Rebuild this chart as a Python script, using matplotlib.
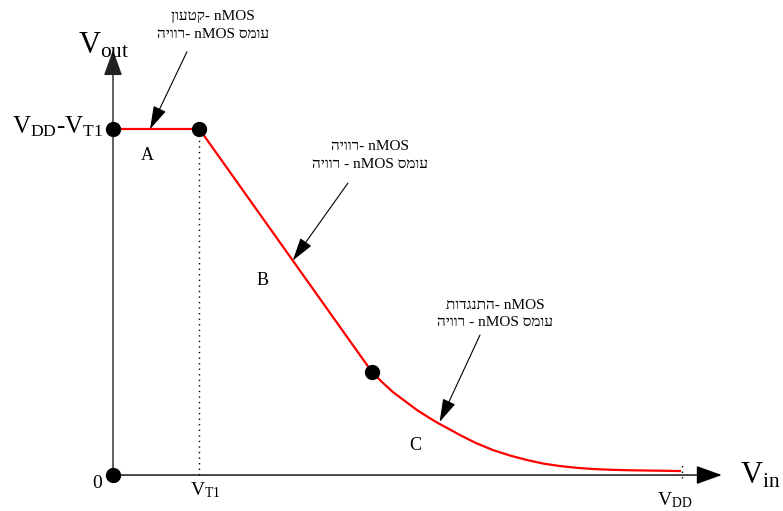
import matplotlib.pyplot as plt

plt.rcParams['font.family'] = ['Liberation Serif', 'DejaVu Serif', 'DejaVu Sans']
plt.rcParams['mathtext.fontset'] = 'custom'
plt.rcParams['mathtext.rm'] = 'Liberation Serif'
plt.rcParams['mathtext.it'] = 'Liberation Serif:italic'


def rtl(word):
    # matplotlib has no bidi support, so Hebrew words are drawn reversed
    return word[::-1]


# supply and threshold voltage (arbitrary units)
VDD = 5.0
VT1 = 0.76
V_HIGH = VDD - VT1

# region A: flat output
a_vin = [0.0, VT1]
a_vout = [V_HIGH, V_HIGH]

# region B: straight drop
b_vin = [VT1, 2.276]
b_vout = [V_HIGH, 1.263]

# region C: tail towards zero
c_vin = [2.276, 2.364, 2.460, 2.566, 2.671, 2.768, 2.856, 2.953, 3.049, 3.190, 3.339,
         3.489, 3.638, 3.779, 3.928, 4.077, 4.218, 4.367, 4.517, 4.745, 4.982]
c_vout = [1.263, 1.140, 1.017, 0.907, 0.797, 0.711, 0.637, 0.564, 0.490, 0.392, 0.306,
          0.239, 0.184, 0.141, 0.110, 0.088, 0.074, 0.065, 0.059, 0.054, 0.049]

# marked points
dot_vin = [0.0, 0.0, VT1, 2.276]
dot_vout = [0.0, V_HIGH, V_HIGH, 1.263]

fig = plt.figure(figsize=(7.83, 5.11), dpi=100)
ax = fig.add_axes([0, 0, 1, 1])
ax.set_xlim(-0.993, 5.888)
ax.set_ylim(-0.441, 5.824)
ax.axis('off')

# axes with arrow heads
axis_arrow = dict(arrowstyle='-|>,head_length=1.0,head_width=0.36', mutation_scale=16,
                  color='black', lw=1.0, shrinkA=0, shrinkB=0)
ax.annotate('', xy=(5.35, 0), xytext=(0, 0), arrowprops=axis_arrow)
ax.annotate('', xy=(0, 5.21), xytext=(0, 0), arrowprops=dict(axis_arrow, color='#222222'))

# dotted guides at VT1 and VDD
ax.plot([VT1, VT1], [0, V_HIGH], color='black', lw=1, ls=(0, (1, 3)))
ax.plot([VDD, VDD], [-0.04, 0.16], color='black', lw=1, ls=(0, (1, 3)))

# transfer curve
ax.plot(a_vin, a_vout, color='red', lw=1.6, solid_capstyle='butt')
ax.plot(b_vin, b_vout, color='red', lw=1.6, solid_joinstyle='round')
ax.plot(c_vin, c_vout, color='red', lw=1.6, solid_joinstyle='round')
ax.plot(dot_vin, dot_vout, 'o', color='black', ms=10, zorder=5)

# region letters
ax.text(0.30, 3.92, 'A', fontsize=13, ha='center', va='center')
ax.text(1.318, 2.39, 'B', fontsize=13, ha='center', va='center')
ax.text(2.654, 0.368, 'C', fontsize=13, ha='center', va='center')

# axis labels
ax.text(-0.307, 5.17, r'$\mathrm{V}_{\mathrm{out}}$', fontsize=22, ha='left', va='baseline')
ax.text(5.51, -0.098, r'$\mathrm{V}_{\mathrm{in}}$', fontsize=22, ha='left', va='baseline')
ax.text(-0.888, 4.19, r'$\mathrm{V}_{\mathrm{DD}}\mathrm{\text{-}V}_{\mathrm{T1}}$', fontsize=18,
        ha='left', va='baseline')
ax.text(-0.14, -0.16, '0', fontsize=14, ha='center', va='baseline')
ax.text(0.677, -0.245, r'$\mathrm{V}_{\mathrm{T1}}$', fontsize=14, ha='left', va='baseline')
ax.text(4.78, -0.368, r'$\mathrm{V}_{\mathrm{DD}}$', fontsize=14, ha='left', va='baseline')

# transistor states for each region
load_sat = rtl('רוויה') + ' - nMOS ' + rtl('עומס')
notes = [
    (rtl('קטעון') + '- nMOS\n' + rtl('רוויה') + '- nMOS ' + rtl('עומס'),
     (0.88, 5.51), (0.65, 5.19), (0.325, V_HIGH)),
    (rtl('רוויה') + '- nMOS\n' + load_sat,
     (2.258, 3.92), (2.065, 3.58), (1.58, 2.63)),
    (rtl('התנגדות') + '- nMOS\n' + load_sat,
     (3.357, 1.975), (3.225, 1.716), (2.87, 0.65)),
]
note_arrow = dict(arrowstyle='-|>,head_length=1.2,head_width=0.35', mutation_scale=12,
                  color='black', lw=0.8, shrinkA=0, shrinkB=0)
for label, text_pos, start, tip in notes:
    ax.text(text_pos[0], text_pos[1], label, fontsize=11, ha='center', va='center',
            ma='center', linespacing=1.45)
    ax.annotate('', xy=tip, xytext=start, arrowprops=note_arrow)

fig.savefig('out.png', dpi=100)
